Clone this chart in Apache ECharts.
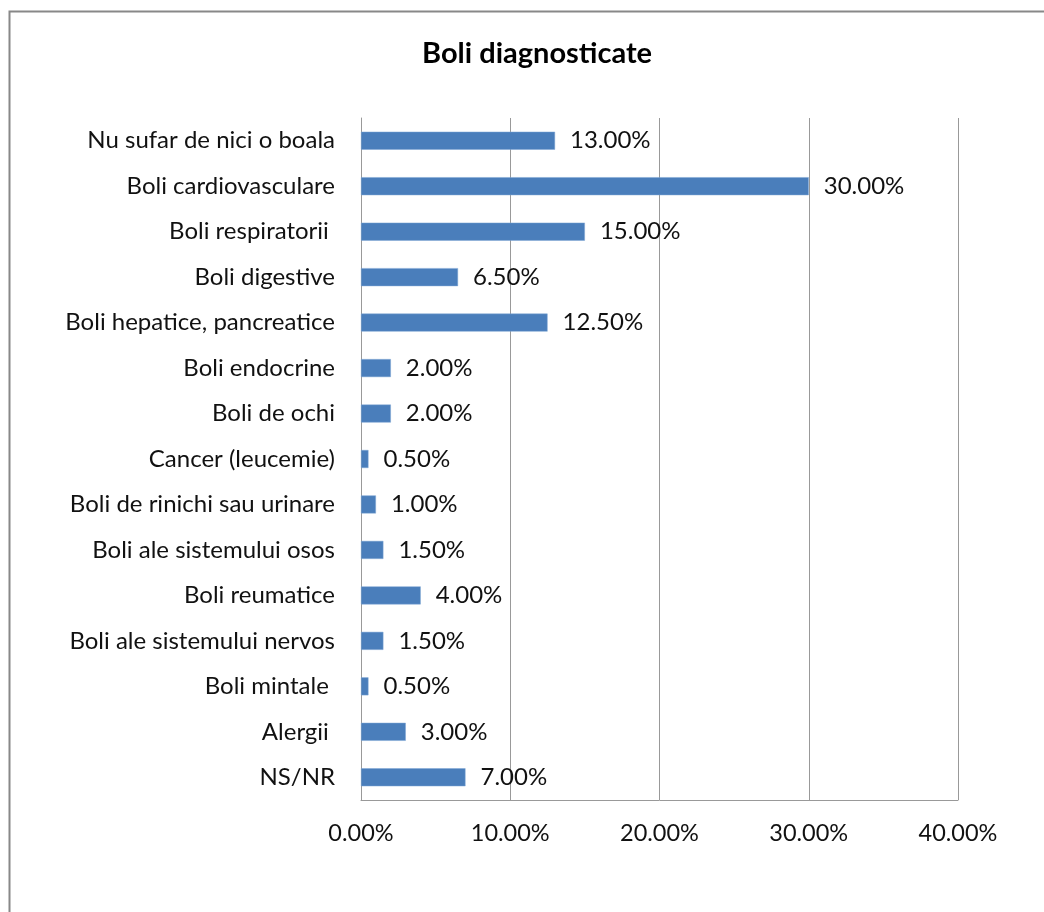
<!DOCTYPE html>
<html><head><meta charset="utf-8">
<script src="https://cdn.jsdelivr.net/npm/echarts@6/dist/echarts.min.js"></script>
<style>html,body{margin:0;padding:0;background:#fff}#c{width:1044px;height:912px}</style>
</head><body><div id="c"></div>
<script>
const categories = ["Nu sufar de nici o boala","Boli cardiovasculare","Boli respiratorii ","Boli digestive","Boli hepatice, pancreatice","Boli endocrine","Boli de ochi","Cancer (leucemie)","Boli de rinichi sau urinare","Boli ale sistemului osos","Boli reumatice","Boli ale sistemului nervos","Boli mintale ","Alergii ","NS/NR"];
const values = [13, 30, 15, 6.5, 12.5, 2, 2, 0.5, 1, 1.5, 4, 1.5, 0.5, 3, 7];
const xTicks = [0, 10, 20, 30, 40];
const title = "Boli diagnosticate";
const FONT = "Lato";
const chart = echarts.init(document.getElementById('c'));
chart.setOption({
  animation: false,
  backgroundColor: '#fff',
  title: {text: title, left: 417, top: 34, textStyle: {fontFamily: FONT, fontSize: 29, fontWeight: 'bold', color: '#000'}},
  graphic: [{type: 'rect', shape: {x: 9.5, y: 11.5, width: 1100, height: 1000}, style: {fill: 'none', stroke: '#888', lineWidth: 2}}],
  grid: {left: 361, right: 86, top: 118, bottom: 112, containLabel: false},
  xAxis: {type: 'value', min: xTicks[0], max: xTicks[xTicks.length-1], interval: 10,
    axisLine: {show: true, lineStyle: {color: '#999'}}, axisTick: {show: false},
    splitLine: {show: true, lineStyle: {color: '#999', width: 1}},
    axisLabel: {formatter: v => v.toFixed(2) + '%', fontFamily: FONT, fontSize: 23.5, color: '#111', margin: 21}},
  yAxis: {type: 'category', data: categories, inverse: true,
    axisLine: {show: true, lineStyle: {color: '#999'}}, axisTick: {show: false},
    axisLabel: {fontFamily: FONT, fontSize: 24, color: '#111', margin: 26}},
  series: [{type: 'bar', data: values, barWidth: 18,
    itemStyle: {color: '#4a7ebb', borderColor: '#7fa6d4', borderWidth: 0.5},
    label: {show: true, position: 'right', distance: 15, formatter: p => p.value.toFixed(2) + '%', fontFamily: FONT, fontSize: 24, color: '#111'}}]
});
</script></body></html>
